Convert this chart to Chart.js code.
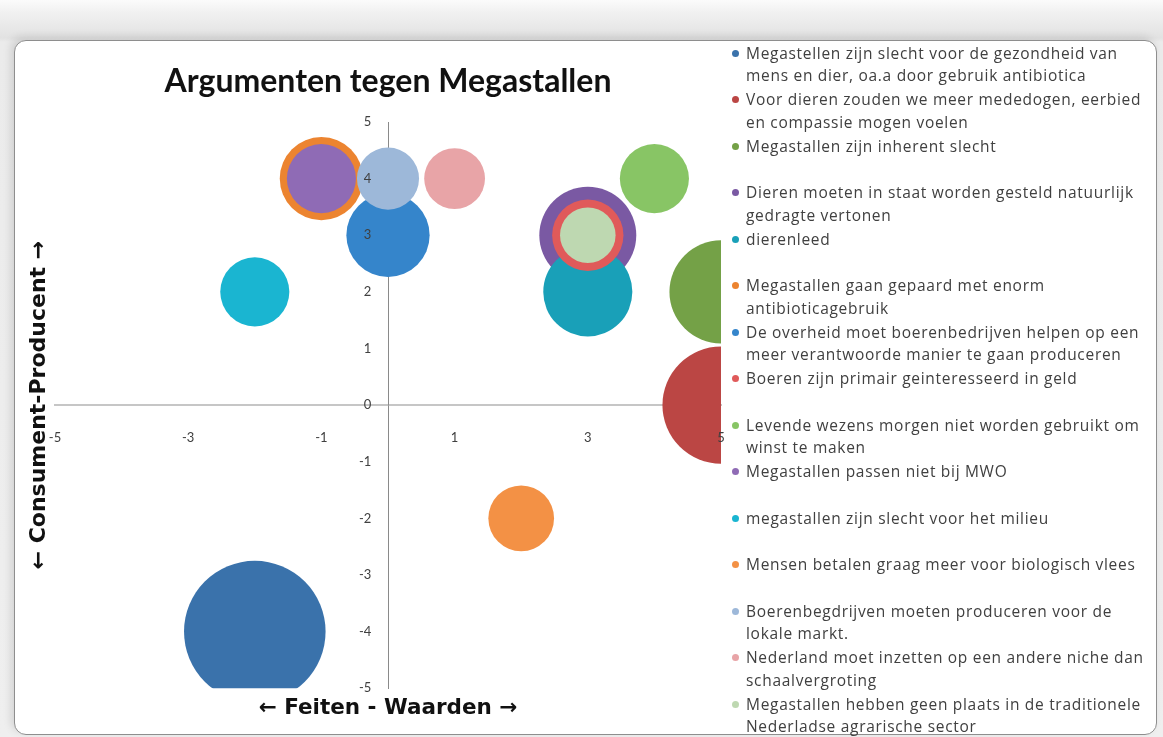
<!DOCTYPE html>
<html>
<head>
<meta charset="utf-8">
<title>Argumenten tegen Megastallen</title>
<script src="https://cdn.jsdelivr.net/npm/chart.js@4.4.1/dist/chart.umd.min.js"></script>
<style>
  html, body { margin: 0; padding: 0; }
  body {
    width: 1163px; height: 737px; overflow: hidden; position: relative;
    background: linear-gradient(to bottom, #fbfbfb 0px, #f1f1f1 12px, #e2e2e2 38px, #ebebeb 42px, #efefef 100%);
  }
  #frame {
    position: absolute; left: 14px; top: 40px; width: 1141px; height: 693px;
    background: #fff; border: 1px solid #8e8e8e; border-radius: 12px;
    box-shadow: -3px -3px 8px rgba(0, 0, 0, 0.12);
  }
  #chartBox { position: absolute; left: 14px; top: 41px; width: 748px; height: 688px; }
  #legend {
    position: absolute; left: 729px; top: 41.75px; width: 428px;
    margin: 0; padding: 0; list-style: none;
    font-family: 'Open Sans', sans-serif; font-size: 15.5px; letter-spacing: 0.7px; color: #404040;
  }
  #legend li { height: 46.5px; position: relative; padding-left: 17px; line-height: 22.5px; white-space: pre; }
  #legend .dot { position: absolute; left: 2.5px; top: 7.75px; width: 7px; height: 7px; border-radius: 50%; }
</style>
</head>
<body>
<div id="frame"></div>
<div id="chartBox"><canvas id="chart" width="748" height="688"></canvas></div>
<ul id="legend"></ul>
<script>
// Chart data
const TITLE = 'Argumenten tegen Megastallen';
const X_TITLE = '\u2190 Feiten - Waarden \u2192';
const Y_TITLE = '\u2190 Consument-Producent \u2192';

const LABELS = [
  'Megastellen zijn slecht voor de gezondheid van\nmens en dier, oa.a door gebruik antibiotica',
  'Voor dieren zouden we meer mededogen, eerbied\nen compassie mogen voelen',
  'Megastallen zijn inherent slecht',
  'Dieren moeten in staat worden gesteld natuurlijk\ngedragte vertonen',
  'dierenleed',
  'Megastallen gaan gepaard met enorm\nantibioticagebruik',
  'De overheid moet boerenbedrijven helpen op een\nmeer verantwoorde manier te gaan produceren',
  'Boeren zijn primair geinteresseerd in geld',
  'Levende wezens morgen niet worden gebruikt om\nwinst te maken',
  'Megastallen passen niet bij MWO',
  'megastallen zijn slecht voor het milieu',
  'Mensen betalen graag meer voor biologisch vlees',
  'Boerenbegdrijven moeten produceren voor de\nlokale markt.',
  'Nederland moet inzetten op een andere niche dan\nschaalvergroting',
  'Megastallen hebben geen plaats in de traditionele\nNederladse agrarische sector'
];

const X_VALUES = [-2, 5, 5, 3, 3, -1, 0, 3, 4, -1, -2, 2, 0, 1, 3];
const Y_VALUES = [-4, 0, 2, 3, 2, 4, 3, 3, 4, 4, 2, -2, 4, 4, 3];
// bubble size (area)
const SIZES = [13, 8.9, 6.9, 6.1, 5.15, 4.5, 4.5, 3.3, 3.1, 3.1, 3.1, 2.8, 2.5, 2.4, 2.0];

const COLORS = [
  '#3a72ab', '#bb4644', '#74a147', '#7a59a3', '#19a0b8',
  '#ec8430', '#3585cb', '#e05a5a', '#88c565', '#8f6bb5',
  '#1ab5d1', '#f39145', '#9db8d9', '#e8a4a7', '#bed8b1'
];

const X_TICKS = [-5, -3, -1, 1, 3, 5];
const Y_TICKS = [-5, -4, -3, -2, -1, 0, 1, 2, 3, 4, 5];

// Excel-like bubble scaling: largest bubble is 25% of the smaller plot side
const BUBBLE_SCALE = 0.25;
// y tick labels sit a little left of the vertical axis (in x units)
const Y_LABEL_X = -0.25;

Chart.defaults.font.family = 'Lato';

const datasets = LABELS.map((label, i) => ({
  label: label.replace('\n', ' '),
  data: [{ x: X_VALUES[i], y: Y_VALUES[i] }],
  backgroundColor: COLORS[i],
  borderWidth: 0,
  hoverBorderWidth: 0,
  order: LABELS.length - i, // later series on top, as in Excel
  clip: 0
}));

const axisTicks = (values) => (scale) => {
  scale.ticks = values.map(v => ({ value: v }));
};

const tickFont = { size: 13 };

const chart = new Chart(document.getElementById('chart'), {
  type: 'bubble',
  data: { datasets },
  options: {
    responsive: false,
    animation: false,
    events: [],
    layout: { autoPadding: false, padding: { left: 0, right: 41, top: 0, bottom: 0 } },
    plugins: {
      legend: { display: false },
      tooltip: { enabled: false },
      title: {
        display: true,
        fullSize: false,
        text: TITLE,
        color: '#111',
        font: { family: 'Lato', size: 32, weight: 'bold' },
        padding: { top: 21, bottom: 21.6 }
      },
      subtitle: {
        display: true,
        position: 'left',
        fullSize: false,
        text: Y_TITLE,
        color: '#111',
        font: { family: 'DejaVu Sans', size: 22, weight: 'bold' },
        padding: { top: 12, bottom: 2.6 }
      }
    },
    scales: {
      x: {
        type: 'linear',
        min: -5,
        max: 5,
        position: { y: 0 },
        afterBuildTicks: axisTicks(X_TICKS),
        grid: { display: false, drawTicks: false },
        border: { display: true, color: '#c6c6c6', width: 2 },
        ticks: { z: 1, padding: 25, color: '#404040', font: tickFont }
      },
      y: {
        type: 'linear',
        min: -5,
        max: 5,
        position: { x: 0 },
        grid: { display: false, drawTicks: false },
        border: { display: true, color: '#8a8a8a', width: 1 },
        ticks: { display: false }
      },
      // carries the y tick labels, drawn just left of the axis line
      yLabels: {
        type: 'linear',
        min: -5,
        max: 5,
        position: { x: Y_LABEL_X },
        afterBuildTicks: axisTicks(Y_TICKS),
        grid: { display: false, drawTicks: false },
        border: { display: false },
        ticks: { z: 1, color: '#404040', font: tickFont }
      },
      // holds the horizontal axis title below the plot
      xTitle: {
        type: 'linear',
        position: 'bottom',
        display: true,
        grid: { display: false, drawTicks: false },
        border: { display: false },
        ticks: { display: false },
        title: {
          display: true,
          text: X_TITLE,
          color: '#111',
          font: { family: 'DejaVu Sans', size: 21.5, weight: 'bold' },
          padding: { top: 7, bottom: 8 }
        }
      }
    }
  }
});

// Bubble radius from size, once the plot area is known
function setBubbleRadii(chart) {
  const area = chart.chartArea;
  const maxR = BUBBLE_SCALE * Math.min(area.width, area.height) / 2;
  const maxSize = Math.max(...SIZES);
  chart.data.datasets.forEach((ds, i) => {
    ds.data[0].r = maxR * Math.sqrt(SIZES[i] / maxSize);
  });
  chart.update('none');
}
setBubbleRadii(chart);

// HTML legend, one two-line slot per series
function buildLegend(chart) {
  const ul = document.getElementById('legend');
  chart.data.datasets.forEach((ds, i) => {
    const li = document.createElement('li');
    const dot = document.createElement('span');
    dot.className = 'dot';
    dot.style.background = ds.backgroundColor;
    li.appendChild(dot);
    li.appendChild(document.createTextNode(LABELS[i]));
    ul.appendChild(li);
  });
}
buildLegend(chart);
</script>
</body>
</html>
